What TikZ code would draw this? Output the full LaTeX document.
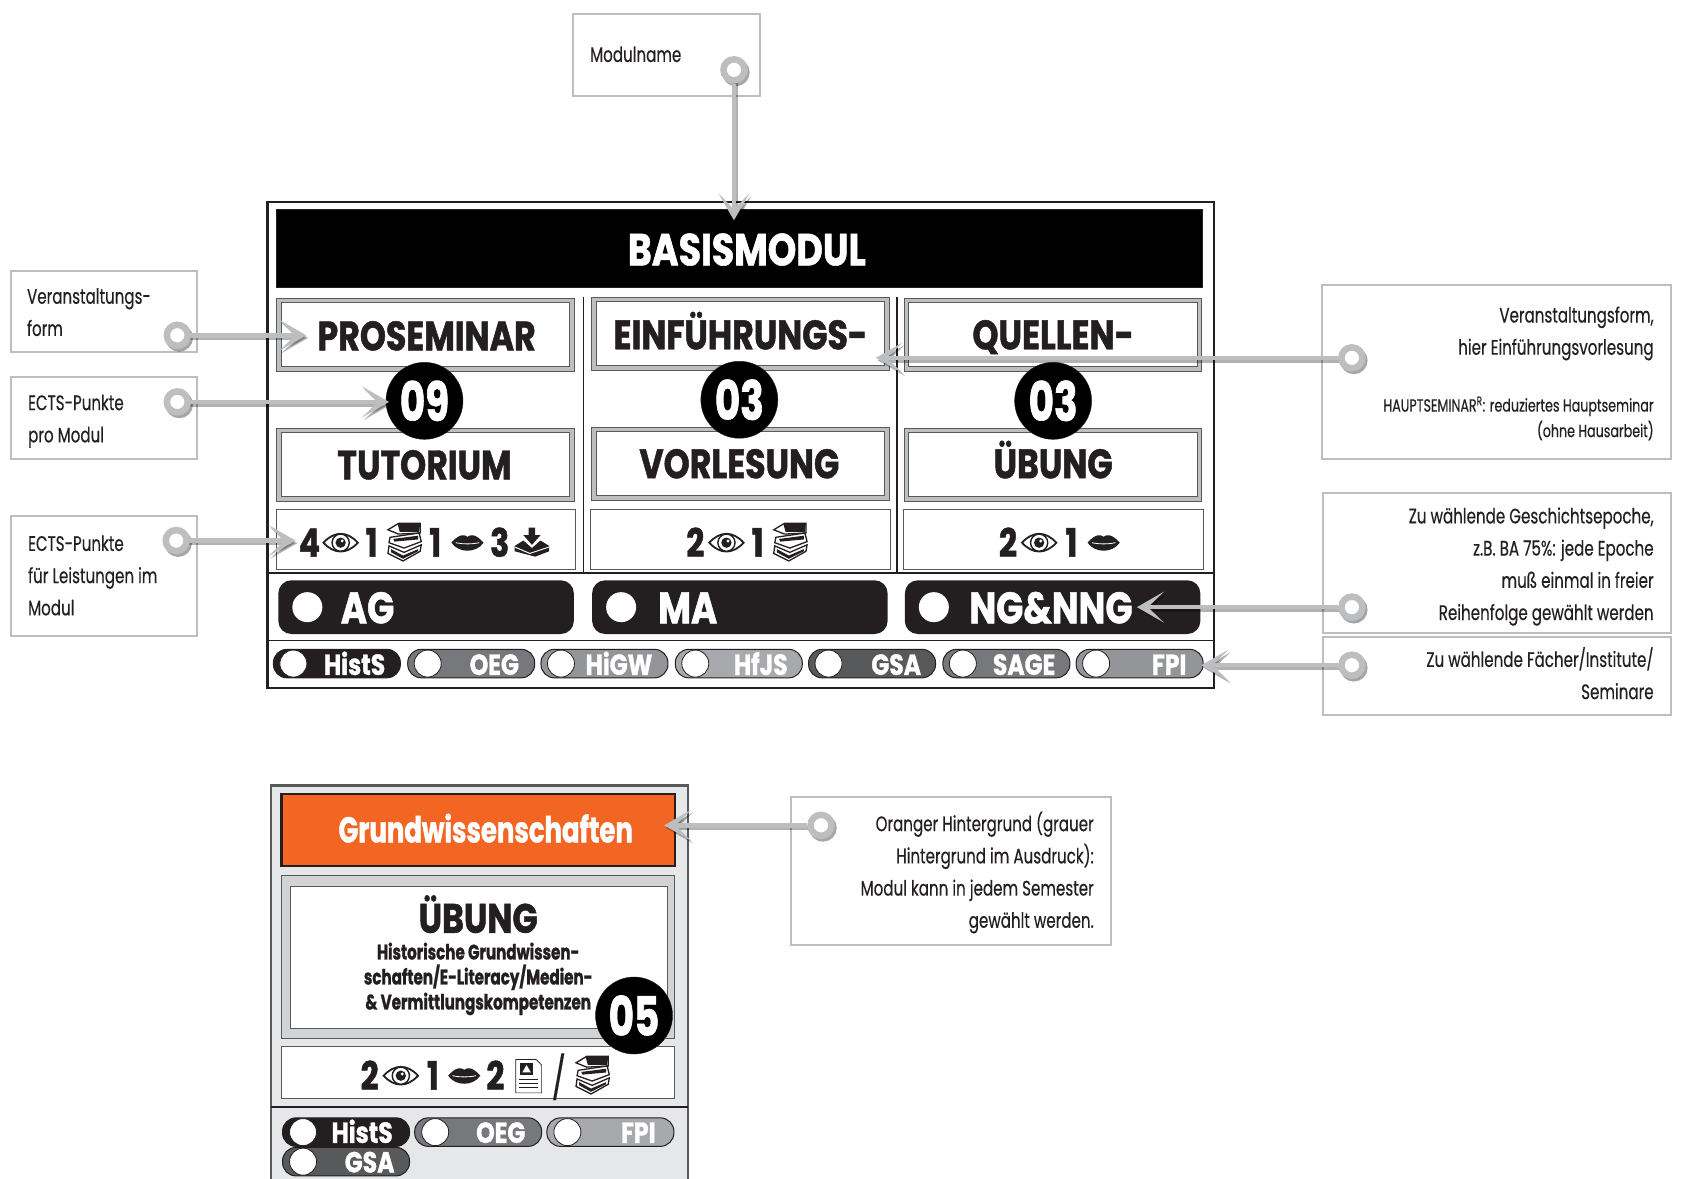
\documentclass[tikz,border=0pt]{standalone}
\usepackage{fontspec}
\usetikzlibrary{arrows.meta}
\newfontfamily\headfont{Poppins}[FakeStretch=0.81,BoldFeatures={FakeBold=1.2}]
\newfontfamily\digitfont{Poppins}[FakeStretch=0.72,BoldFeatures={FakeBold=1.2}]
\newfontfamily\notefont{Poppins}[FakeStretch=0.72,FakeBold=0.35]
\newcommand{\fs}[1]{\fontsize{#1}{#1}\selectfont}
\definecolor{inkblack}{HTML}{231F20}
\definecolor{notegray}{HTML}{BCBEC0}
\definecolor{bandgray}{HTML}{BCBEC0}
\definecolor{framegray}{HTML}{58595B}
\definecolor{panelgray}{HTML}{E6E7E8}
\definecolor{bandlight}{HTML}{D1D3D4}
\definecolor{orangebar}{HTML}{F26522}
\definecolor{pillone}{HTML}{58595B}
\definecolor{pilltwo}{HTML}{77787B}
\definecolor{pillthree}{HTML}{939598}
\definecolor{pillfour}{HTML}{A7A9AC}
\tikzset{
  notebox/.style={draw=notegray,line width=2pt,fill=white},
  notetext/.style={font=\notefont\fontsize{21}{32.2}\selectfont,text=inkblack,inner sep=0pt,align=left,anchor=north west},
  noteright/.style={notetext,align=right,anchor=north east},
  notesmall/.style={noteright,font=\notefont\fontsize{17.6}{25.5}\selectfont},
  headbox/.style={draw=framegray,line width=0.9pt,double=bandgray,double distance=3.4pt,fill=white,
    minimum width=293pt,minimum height=68.6pt,inner sep=0pt},
  headtext/.style={font=\headfont\bfseries\fs{41},text=inkblack,inner sep=0pt,anchor=base},
  ptsbox/.style={draw=framegray,line width=0.8pt,fill=white,inner sep=0pt},
  ptsnum/.style={font=\headfont\bfseries\fs{39},text=inkblack,inner sep=0pt,anchor=base},
  ectsdot/.style={circle,fill=black,draw=inkblack,minimum size=77pt,inner sep=0pt,
    font=\digitfont\bfseries\fs{54},text=white},
  epochpill/.style={rounded corners=13pt,fill=inkblack,minimum width=295.5pt,minimum height=53.7pt,inner sep=0pt},
  epochdot/.style={circle,fill=white,minimum size=30pt,inner sep=0pt},
  epochtext/.style={font=\headfont\bfseries\fs{44},text=white,inner sep=0pt,anchor=base},
  fachpill/.style={rounded corners=13.5pt,draw=inkblack,line width=1pt,minimum width=127pt,minimum height=28.5pt,inner sep=0pt},
  fachdot/.style={circle,fill=white,draw=inkblack,line width=0.8pt,minimum size=27pt,inner sep=0pt},
  fachtext/.style={font=\headfont\bfseries\fs{29},text=white,inner sep=0pt,anchor=base},
  ring/.style={circle,draw=notegray,line width=6.5pt,fill=white,minimum size=21pt,inner sep=0pt},
  ringshadow/.style={draw=black,opacity=0.35,line width=6pt},
  pointer/.style={draw=notegray,line width=4.6pt,-{Stealth[length=27pt,width=31pt,inset=16pt]}},
  pointershadow/.style={pointer,draw=black,opacity=0.3},
}
% icons, drawn around their centre
\newcommand{\eyeicon}[2]{
  \begin{scope}[shift={(#1,#2)}]
    \draw[fill=white,line width=1.8pt,draw=inkblack] (-16,0) .. controls (-6,-11) and (6,-11) .. (16,0) .. controls (6,11) and (-6,11) .. (-16,0) -- cycle;
    \draw[fill=white,line width=1.4pt,draw=inkblack] (0,0) circle (8);
    \fill[inkblack] (0,0) circle (4.8);
    \fill[white] (1.4,-1.6) circle (1.5);
  \end{scope}}
\newcommand{\lipsicon}[2]{
  \begin{scope}[shift={(#1,#2)}]
    \fill[inkblack] (-15,0) .. controls (-8,-8) and (-3,-8) .. (0,-5.5) .. controls (3,-8) and (8,-8) .. (15,0) .. controls (8,10) and (-8,10) .. (-15,0) -- cycle;
    \draw[white,line width=0.8pt] (-11,0) .. controls (-4,1.5) and (4,1.5) .. (11,0);
  \end{scope}}
\newcommand{\booksicon}[2]{
  \begin{scope}[shift={(#1,#2)}]
    \draw[fill=white,line width=1.3pt,draw=inkblack] (-15,-12) -- (-5,-18) -- (15,-18) -- (15,-9) -- (-5,-8) -- cycle;
    \fill[inkblack] (-6,-17.5) -- (15,-18) -- (14,-10) -- (-4,-10) -- cycle;
    \draw[fill=white,line width=1.3pt,draw=inkblack] (-13,-5) -- (14,-9) -- (16,-1) -- (0,5) -- (-14,0) -- cycle;
    \fill[inkblack] (-10,-3.5) -- (13,-6.5) -- (13,-3) -- (-9,-1) -- cycle;
    \draw[fill=white,line width=1.3pt,draw=inkblack] (-14,3) -- (0,9) -- (16,2) -- (15,8) -- (-1,17) -- (-15,10) -- cycle;
    \fill[inkblack] (-12,6) -- (-1,12) -- (13,6) -- (13,8) -- (-1,15) -- (-12,9) -- cycle;
  \end{scope}}
\newcommand{\downicon}[2]{
  \begin{scope}[shift={(#1,#2)}]
    \fill[inkblack] (-3,-14) -- (3,-14) -- (3,-7) -- (8,-7) -- (0,2) -- (-8,-7) -- (-3,-7) -- cycle;
    \fill[inkblack] (-16,3) -- (-8,-2) -- (0,5) -- (8,-2) -- (16,3) -- (16,8) -- (3,13) -- (-16,8) -- cycle;
    \draw[white,line width=1pt] (-16,4) -- (-2,10) -- (16,4);
  \end{scope}}
\newcommand{\docicon}[2]{
  \begin{scope}[shift={(#1,#2)}]
    \draw[fill=white,line width=0.7pt,draw=inkblack] (-12,-15) -- (7,-15) -- (12,-10) -- (12,16) -- (-12,16) -- cycle;
    \fill[inkblack] (-8,-12) rectangle (4,-1);
    \fill[white] (-2,-10) -- (2,-3) -- (-6,-3) -- cycle;
    \foreach \ly in {3,7,11} {\draw[inkblack,line width=0.6pt] (-9,\ly) -- (9,\ly);}
  \end{scope}}
\begin{document}
\begin{tikzpicture}[x=1.0746pt,y=-1.0746pt]
  \useasboundingbox (0,0) rectangle (1568,1097);

  % upper module
  \draw[inkblack,line width=2.2pt,fill=white] (249,188) rectangle (1130,640);
  \fill[black,draw=inkblack] (257,195) rectangle (1119,267);
  \node[font=\headfont\bfseries\fs{45},text=white,inner sep=0pt,anchor=base] (title) at (695,247) {BASISMODUL};
  \draw[inkblack,line width=1.8pt] (543,276) -- (543,533);
  \draw[inkblack,line width=1.8pt] (835,276) -- (835,533);
  \draw[inkblack,line width=1.8pt] (249,533) -- (1130,533);
  \draw[inkblack,line width=1.8pt] (249,596) -- (1130,596);

  \node[headbox] (boxpro) at (396,311.5) {};
  \node[headbox] (boxein) at (689,310.5) {};
  \node[headbox] (boxque) at (980,311.5) {};
  \node[headbox] (boxtut) at (396,432.5) {};
  \node[headbox] (boxvor) at (689,431.5) {};
  \node[headbox] (boxueb) at (980,432.5) {};
  \node[headtext] (txtpro) at (397,326) {PROSEMINAR};
  \node[headtext] (txtein) at (689,325) {EINFÜHRUNGS-};
  \node[headtext] (txtque) at (980,325) {QUELLEN-};
  \node[headtext] (txttut) at (395,446) {TUTORIUM};
  \node[headtext] (txtvor) at (688,445) {VORLESUNG};
  \node[headtext] (txtueb) at (980,445) {ÜBUNG};

  \node[ectsdot] (ectspro) at (395,373) {09};
  \node[ectsdot] (ectsein) at (688,372) {03};
  \node[ectsdot] (ectsque) at (980,373) {03};

  \draw[ptsbox] (257,474) rectangle (535,530);
  \draw[ptsbox] (549,474) rectangle (829,530);
  \draw[ptsbox] (841,474) rectangle (1120,530);
  \foreach \px/\pnum in {288/4, 346/1, 405/1, 465/3, 647/2, 705/1, 938/2, 997/1} {
    \node[ptsnum] (pts\px) at (\px,518) {\pnum};
  }
  \eyeicon{317}{505} \booksicon{376}{505} \lipsicon{435}{505} \downicon{495}{505}
  \eyeicon{676}{505} \booksicon{735}{505}
  \eyeicon{967}{505} \lipsicon{1027}{505}

  % epochs
  \foreach \ename/\ex/\elabel/\etx in {ag/259/AG/342, ma/551/MA/640, ng/842/NG\&NNG/978} {
    \node[epochpill] (pill\ename) at (\ex+137.5,565) {};
    \node[epochdot] (dot\ename) at (\ex+27,565) {};
    \node[epochtext] (txt\ename) at (\etx,580) {\elabel};
  }
  % subjects
  \foreach \fname/\fx/\fcol/\ftx in {HistS/254/inkblack/330, OEG/379/pilltwo/460, HiGW/503/pillthree/576,
      HfJS/628/pillfour/708, GSA/752/pillone/834, SAGE/877/pilltwo/953, FPI/1001/pillthree/1088} {
    \node[fachpill,fill=\fcol] (pill\fname) at (\fx+59.5,617.5) {};
    \node[fachdot] (dot\fname) at (\fx+19,617.5) {};
    \node[fachtext] (txt\fname) at (\ftx,628) {\fname};
  }

  % lower module
  \fill[panelgray] (252,731) rectangle (640,1097);
  \draw[framegray,line width=2.2pt] (252,1097) -- (252,731) -- (640,731) -- (640,1097);
  \draw[inkblack,line width=1.6pt] (252,1030) -- (640,1030);
  \draw[inkblack,line width=2.2pt,fill=orangebar] (262,739) rectangle (628,806);
  \node[font=\digitfont\bfseries\fs{36},text=white,inner sep=0pt,anchor=base] (titlegw) at (452,784) {Grundwissenschaften};
  \draw[framegray,line width=0.9pt,fill=bandlight] (262,815) rectangle (628,966);
  \draw[framegray,line width=0.9pt,fill=white] (270,825) rectangle (621,957);
  \node[headtext] (txtgw) at (445,868) {ÜBUNG};
  \node[font=\digitfont\bfseries\fontsize{21}{25}\selectfont,text=inkblack,inner sep=0pt,align=center,anchor=north] (descgw) at (445,877)
    {Historische Grundwissen-\\schaften/E-Literacy/Medien-\\\& Vermittlungskompetenzen};
  \draw[framegray,line width=0.8pt,fill=white] (262,974) rectangle (628,1022);
  \node[ectsdot] (ectsgw) at (590,945) {05};
  \foreach \px/\pnum in {344/2, 403/1, 461/2} {
    \node[ptsnum] (gwpts\px) at (\px,1014) {\pnum};
  }
  \node[font=\notefont\fs{42},text=inkblack,inner sep=0pt,anchor=base] (gwslash) at (520,1017) {/};
  \eyeicon{373}{1001} \lipsicon{432}{1001} \docicon{492}{1001} \booksicon{551}{1001}
  \foreach \fname/\fx/\fy/\fcol/\ftx in {HistS/263/1053.5/inkblack/337, OEG/386/1053.5/pilltwo/466,
      FPI/509/1053.5/pillfour/594, GSA/263/1081/pillone/344} {
    \node[fachpill,fill=\fcol] (gw\fname) at (\fx+59,\fy) {};
    \node[fachdot] (gwdot\fname) at (\fx+19,\fy) {};
    \node[fachtext] (gwtxt\fname) at (\ftx,\fy+10) {\fname};
  }

  % notes
  \draw[notebox] (533,13) rectangle (707,89);
  \node[notetext] (notemod) at (549,43) {Modulname};
  \draw[notebox] (10,252) rectangle (183,328);
  \node[notetext] (noteform) at (25,268) {Veranstaltungs-\\form};
  \draw[notebox] (10,351) rectangle (183,427);
  \node[notetext] (noteects) at (26,367) {ECTS-Punkte\\pro Modul};
  \draw[notebox] (10,480) rectangle (183,592);
  \node[notetext] (noteleist) at (26,498) {ECTS-Punkte\\für Leistungen im\\Modul};
  \draw[notebox] (1230,265) rectangle (1555,427);
  \node[noteright] (noteein) at (1539,285) {Veranstaltungsform,\\hier Einführungsvorlesung};
  \node[notesmall] (notehaupt) at (1539,369) {HAUPTSEMINAR\textsuperscript{R}: reduziertes Hauptseminar\\(ohne Hausarbeit)};
  \draw[notebox] (1231,459) rectangle (1555,589);
  \node[noteright] (noteepo) at (1539,472) {Zu wählende Geschichtsepoche,\\z.B. BA 75\%: jede Epoche\\muß einmal in freier\\Reihenfolge gewählt werden};
  \draw[notebox] (1231,593) rectangle (1555,665);
  \node[noteright] (notefach) at (1539,602) {Zu wählende Fächer/Institute/\\Seminare};
  \draw[notebox] (736,742) rectangle (1034,879);
  \node[noteright] (noteorange) at (1018,755) {Oranger Hintergrund (grauer\\Hintergrund im Ausdruck):\\Modul kann in jedem Semester\\gewählt werden.};

  % pointers
  \foreach \cname/\rx/\ry/\tx/\ty in {mod/683/65/683/205, form/165/312/285/312, ects/165/374/362/374,
      leist/164/503/275/503, ein/1258/333/815/333, epo/1258/565/1058/565, fach/1258/619/1118/619, orange/764/768/618/768} {
    \coordinate (tip\cname) at (\tx,\ty);
    \coordinate (tipsh\cname) at (\tx+1.8,\ty+2.4);
    \coordinate (ringsh\cname) at (\rx+1.8,\ry+2.4);
    \draw[ringshadow] (ringsh\cname) circle (10);
    \draw[pointershadow] (ringsh\cname) -- (tipsh\cname);
    \node[ring] (ring\cname) at (\rx,\ry) {};
    \draw[pointer] (ring\cname) -- (tip\cname);
  }
\end{tikzpicture}
\end{document}
